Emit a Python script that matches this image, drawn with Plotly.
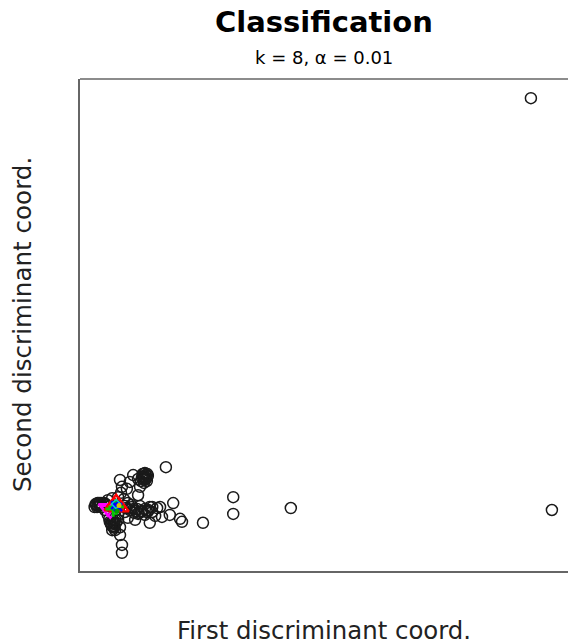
import plotly.graph_objects as go

# Class 1 (open black circles) - first / second discriminant coordinates
c1_x = [0.41, 0.37, 0.49, 0.57, 0.66, 0.78, 0.90, 0.98, 1.07, 1.17, 1.27, 1.37, 1.48, 1.23, 1.11,
        0.92, 0.78, 0.68, 0.66, 0.72, 0.57, 0.82, 0.86, 0.86, 0.82, 1.29, 1.35, 1.25, 1.23, 1.09,
        1.02, 0.82, 0.86, 0.84, 1.76, 1.91, 1.84, 1.64, 1.68, 1.43, 2.09, 2.05, 2.52, 3.14, 3.14,
        4.32, 9.67, 9.24, 1.58, 0.98, 1.13, 0.51, 0.61, 1.33, 1.54, 1.19, 0.96, 1.35, 1.31, 0.74,
        1.43, 0.45, 0.53, 1.20, 1.40, 0.70, 0.95,
        0.33, 0.45, 0.39, 0.53, 1.33, 1.39, 1.19, 1.37, 1.02, 1.19, 0.92, 1.33, 1.48,
        0.61, 0.74, 0.66, 0.78, 0.30, 0.43, 1.30, 1.36, 0.64, 0.70,
        0.32, 0.35, 0.40, 0.36, 0.42, 1.30, 1.34, 1.28, 1.38, 1.32, 1.27,
        0.66, 0.70, 0.63, 0.68, 0.72, 0.60, 1.10, 1.25, 1.40, 1.05, 1.15]
c1_y = [1.34, 1.32, 1.38, 1.44, 1.48, 1.50, 1.46, 1.38, 1.30, 1.26, 1.22, 1.20, 1.20, 1.32, 1.18,
        1.20, 1.14, 1.04, 0.91, 0.83, 1.14, 0.73, 0.53, 0.37, 0.89, 1.91, 1.87, 1.83, 1.71, 1.95,
        1.81, 1.85, 1.71, 1.59, 2.11, 1.38, 1.14, 1.30, 1.10, 0.98, 1.00, 1.06, 0.98, 1.50, 1.16,
        1.28, 1.24, 9.61, 1.28, 1.08, 1.04, 1.24, 1.32, 1.14, 1.12, 1.54, 1.67, 1.95, 1.79, 1.24,
        1.30, 1.30, 1.36, 1.18, 1.24, 0.98, 1.28,
        1.34, 1.30, 1.38, 1.34, 1.99, 1.93, 1.87, 1.83, 1.24, 1.16, 1.32, 1.26, 1.30,
        1.00, 0.98, 0.83, 1.04, 1.30, 1.38, 1.97, 1.89, 0.94, 0.88,
        1.36, 1.30, 1.33, 1.38, 1.36, 1.93, 1.90, 1.97, 1.97, 1.85, 1.89,
        1.02, 0.96, 0.97, 0.90, 1.05, 1.06, 1.26, 1.20, 1.22, 1.34, 1.22]

# Other classes, tightly grouped near the centre of the cloud
c2_x = [0.74, 0.80, 0.70]   # red
c2_y = [1.38, 1.30, 1.32]
c3_x = [0.68, 0.74]         # green
c3_y = [1.26, 1.30]
c4_x = [0.78, 0.72]         # blue
c4_y = [1.30, 1.34]
c5_x = [0.74]               # cyan
c5_y = [1.36]
c6_x = [0.57, 0.62]         # magenta
c6_y = [1.28, 1.24]
c7_x = [0.80]               # yellow
c7_y = [1.33]
c8_x = [0.76]               # dark green
c8_y = [1.22]

fig = go.Figure()
fig.add_trace(go.Scatter(x=c1_x, y=c1_y, mode="markers",
                         marker=dict(symbol="circle-open", size=11, color="#1a1a1a",
                                     line=dict(width=1.5))))
fig.add_trace(go.Scatter(x=c6_x, y=c6_y, mode="markers",
                         marker=dict(symbol="triangle-down-open", size=16, color="#ff00ff",
                                     line=dict(width=2.2))))
fig.add_trace(go.Scatter(x=c2_x, y=c2_y, mode="markers",
                         marker=dict(symbol="triangle-up-open", size=17, color="#ff0000",
                                     line=dict(width=2.2))))
fig.add_trace(go.Scatter(x=c3_x, y=c3_y, mode="markers",
                         marker=dict(symbol="cross-thin-open", size=11, color="#00cd00",
                                     line=dict(width=3))))
fig.add_trace(go.Scatter(x=c4_x, y=c4_y, mode="markers",
                         marker=dict(symbol="x-thin-open", size=8, color="#0000ff",
                                     line=dict(width=2.5))))
fig.add_trace(go.Scatter(x=c5_x, y=c5_y, mode="markers",
                         marker=dict(symbol="diamond-open", size=7, color="#00cdcd",
                                     line=dict(width=1.5))))
fig.add_trace(go.Scatter(x=c7_x, y=c7_y, mode="markers",
                         marker=dict(symbol="circle", size=5, color="#e0c000")))
fig.add_trace(go.Scatter(x=c8_x, y=c8_y, mode="markers",
                         marker=dict(symbol="circle", size=5, color="#009900")))

font = "DejaVu Sans"
fig.update_layout(
    width=568, height=644,
    margin=dict(l=80, r=0, t=79, b=73),
    paper_bgcolor="white", plot_bgcolor="white",
    showlegend=False,
    xaxis=dict(range=[0, 10], showgrid=False, zeroline=False, showticklabels=False,
               ticks="", showline=True, linecolor="#666", linewidth=1.5),
    yaxis=dict(range=[0, 10], showgrid=False, zeroline=False, showticklabels=False,
               ticks="", showline=True, linecolor="#666", linewidth=1.5),
    shapes=[dict(type="line", xref="paper", yref="paper", x0=0, x1=1, y0=1, y1=1,
                 line=dict(color="#666", width=1.5))],
    annotations=[
        dict(text="<b>Classification</b>", xref="paper", yref="paper", x=0.5, y=1,
             yshift=57, showarrow=False, font=dict(family=font, size=29, color="black"),
             yanchor="middle"),
        dict(text="k = 8, α = 0.01", xref="paper", yref="paper", x=0.5, y=1,
             yshift=22, showarrow=False, font=dict(family=font, size=18, color="black"),
             yanchor="middle"),
        dict(text="First discriminant coord.", xref="paper", yref="paper", x=0.5, y=0,
             yshift=-59, showarrow=False, font=dict(family=font, size=24.4, color="#222"),
             yanchor="middle"),
        dict(text="Second discriminant coord.", xref="paper", yref="paper", x=0, y=0.5,
             xshift=-58, showarrow=False, textangle=-90,
             font=dict(family=font, size=24.6, color="#222"), xanchor="center"),
    ],
)

fig.write_html("out.html", config={"displayModeBar": False},
               post_script="document.body.style.margin='0';document.body.style.overflow='hidden';")
